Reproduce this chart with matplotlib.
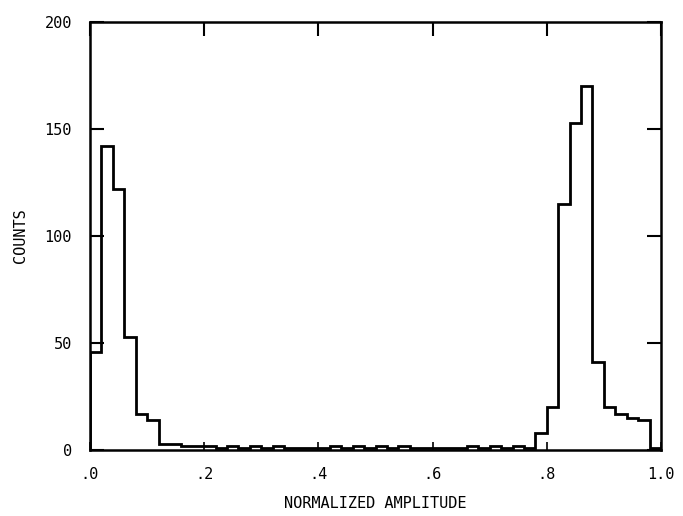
import numpy as np
import matplotlib
matplotlib.use("Agg")
import matplotlib.pyplot as plt

bin_edges = [round(0.02 * i, 2) for i in range(51)]
counts = [46, 142, 122, 53, 17, 14, 3, 3, 2, 2,
          2, 1, 2, 1, 2, 1, 2, 1, 1, 1,
          1, 2, 1, 2, 1, 2, 1, 2, 1, 1,
          1, 1, 1, 2, 1, 2, 1, 2, 1, 8,
          20, 115, 153, 170, 41, 20, 17, 15, 14, 1]
xticks = [0.0, 0.2, 0.4, 0.6, 0.8, 1.0]
xticklabels = [".0", ".2", ".4", ".6", ".8", "1.0"]
yticks = [0, 50, 100, 150, 200]
yticklabels = ["0", "50", "100", "150", "200"]

plt.rcParams['font.family'] = ['DejaVu Sans Mono', 'DejaVu Sans']
fig = plt.figure(figsize=(6.83, 5.16), dpi=100)
ax = fig.add_axes([90/683, 1 - 450/516, (661-90)/683, (450-22)/516])
ax.stairs(counts, bin_edges, color='black', linewidth=2.0, baseline=0)
ax.set_xlim(0, 1)
ax.set_ylim(0, 200)
ax.set_xticks(xticks)
ax.set_xticklabels(xticklabels, fontsize=11)
ax.set_yticks(yticks)
ax.set_yticklabels(yticklabels, fontsize=11)
ax.tick_params(axis='y', direction='in', length=10, width=1.5, left=True, right=True, pad=13)
ax.tick_params(axis='x', direction='in', length=6, width=1.2, top=False, bottom=True, pad=12)
top = ax.secondary_xaxis('top')
top.set_xticks(xticks)
top.set_xticklabels([])
top.tick_params(direction='in', length=10, width=1.5)
top.spines['top'].set_visible(False)
for s in ax.spines.values():
    s.set_linewidth(1.8)
ax.set_xlabel("NORMALIZED AMPLITUDE", fontsize=11, labelpad=10)
ax.set_ylabel("COUNTS", fontsize=11, labelpad=12)
fig.savefig("out.png", dpi=100)
